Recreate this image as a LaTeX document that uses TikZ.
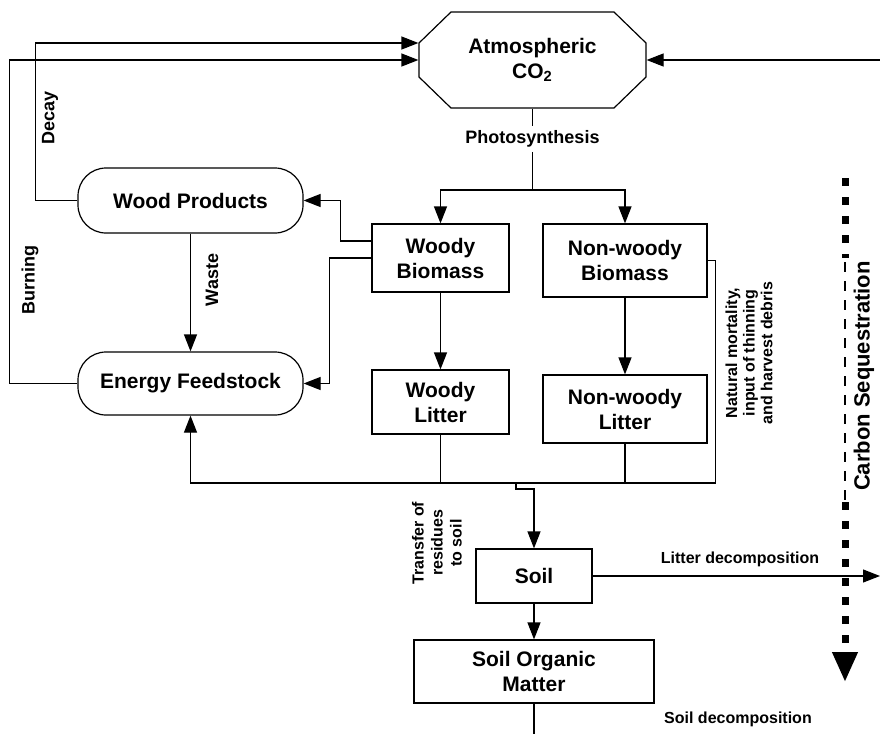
\documentclass[tikz,border=0pt]{standalone}
\usepackage{fontspec}
\setmainfont{Liberation Sans}
\usetikzlibrary{arrows.meta}

\tikzset{
  box/.style={draw,line width=0.6pt,inner sep=0pt,align=center,
    font=\fontsize{10.5}{12.5}\selectfont\bfseries},
  pill/.style={box,rounded corners=14pt},
  lbl/.style={inner sep=0pt,align=center,font=\fontsize{9}{11}\selectfont\bfseries},
  small/.style={lbl,font=\fontsize{8}{9.5}\selectfont\bfseries},
  arr/.style={-{Triangle[length=8.5pt,width=6.5pt]}},
  flow/.style={line width=0.6pt}
}

\begin{document}
\begin{tikzpicture}[x=0.5pt,y=-0.5pt]
\useasboundingbox (0,0) rectangle (880,734);

% boxes
\node[box,draw=none,minimum width=113.5pt,minimum height=48pt] (atm) at (532.5,60) {Atmospheric\\CO\textsubscript{2}};
\draw[flow] (451,12) -- (614,12) -- (646,43) -- (646,77) -- (614,108) -- (451,108) -- (419,77) -- (419,43) -- cycle;
\node[pill,minimum width=112.5pt,minimum height=32.5pt] (wp) at (190.5,200.5) {Wood Products};
\node[pill,minimum width=112.5pt,minimum height=31.5pt] (ef) at (190.5,383.5) {Energy Feedstock};
\node[box,minimum width=68.5pt,minimum height=34pt] (wb) at (440.5,258) {Woody\\Biomass};
\node[box,minimum width=82pt,minimum height=36.5pt] (nwb) at (625,260.5) {Non-woody\\Biomass};
\node[box,minimum width=68.5pt,minimum height=32pt] (wl) at (440.5,402) {Woody\\Litter};
\node[box,minimum width=82pt,minimum height=34pt] (nwl) at (625,409) {Non-woody\\Litter};
\node[box,minimum width=58pt,minimum height=27pt] (soil) at (534,576) {Soil};
\node[box,minimum width=120pt,minimum height=31.5pt] (som) at (534,671.5) {Soil Organic\\Matter};

% labels
\node[lbl,fill=white,inner ysep=2pt] (photo) at (532.5,139) {Photosynthesis};
\node[lbl,rotate=90] (decay) at (50,118) {Decay};
\node[lbl,rotate=90] (burn) at (30,280) {Burning};
\node[lbl,rotate=90] (waste) at (212,280) {Waste};
\node[small,rotate=90] (transfer) at (437,543) {Transfer of\\residues\\to soil};
\node[small,rotate=90,font=\fontsize{8}{8.8}\selectfont\bfseries] (mort) at (749,353) {Natural mortality,\\input of thinning\\and harvest debris};
\node[small] (litdec) at (740,559) {Litter decomposition};
\node[small] (soildec) at (738,719) {Soil decomposition};
\node[lbl,rotate=90,font=\fontsize{11}{13}\selectfont\bfseries] (cseq) at (864,376) {Carbon Sequestration};

\coordinate (split) at (532.5,190);
\coordinate (decayin) at ([yshift=8.5pt]atm.west);
\coordinate (inflow) at (880,60);
\coordinate (base) at (516,483);
\coordinate (litout) at (880,576);
\coordinate (somout) at (534,734);

% flows
\draw[flow] (atm.south) -- (photo) -- (split);
\draw[flow,arr] (split) -| (wb.north);
\draw[flow,arr] (split) -| (nwb.north);
\draw[flow,arr] ([yshift=8.5pt]wb.west) -- ++(-31,0) |- (wp.east);
\draw[flow,arr] (wb.west) -- ++(-42,0) |- (ef.east);
\draw[flow,arr] (wp.south) -- (ef.north);
\draw[flow,arr] (wp.west) -- ++(-42,0) |- (decayin);
\draw[flow,arr] (ef.west) -- ++(-68,0) |- (atm.west);
\draw[flow,arr] (inflow) -- (atm.east);
\draw[flow,arr] (wb.south) -- (wl.north);
\draw[flow,arr] (nwb.south) -- (nwl.north);
\draw[flow] (wl.south) -- (wl.south |- base);
\draw[flow] (nwl.south) -- (nwl.south |- base);
\draw[flow,arr] (nwb.east) -- ++(8,0) |- (ef.south |- base) -- (ef.south);
\draw[flow,arr] (base) -- ++(0,6) -| (soil.north);
\draw[flow,arr] (soil.south) -- (som.north);
\draw[flow,arr] (soil.east) -- (litout);
\draw[flow] (som.south) -- (somout);

% carbon sequestration arrow
\draw[line width=3.5pt,dash pattern=on 4pt off 5.5pt] (845,178) -- (845,258);
\draw[line width=1pt,dash pattern=on 5pt off 4.5pt] (845,262) -- (845,500);
\draw[line width=3.5pt,dash pattern=on 4pt off 5.5pt,-{Triangle[length=15pt,width=12pt]}] (845,502) -- (845,682);
\end{tikzpicture}
\end{document}
